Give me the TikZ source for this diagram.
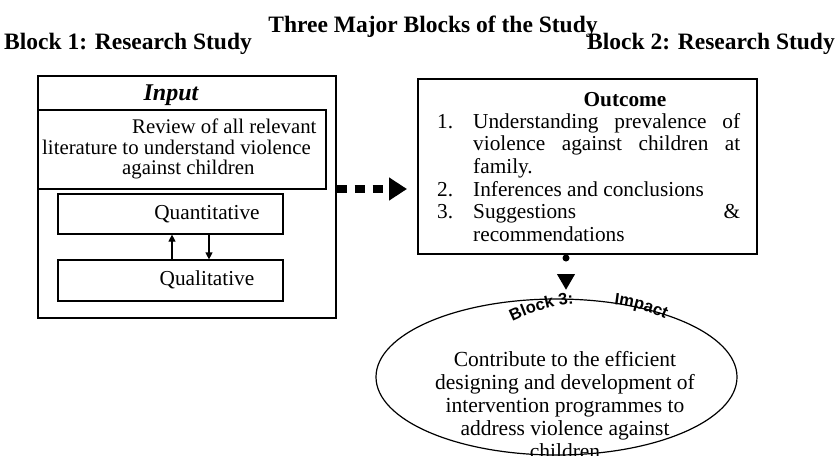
\documentclass[tikz,border=0pt]{standalone}
\usepackage{fontspec}
\setmainfont{Liberation Serif}
\newfontfamily\impactsans{Liberation Sans}
\usepackage{tikz}
\usetikzlibrary{arrows.meta,shapes.geometric,decorations.text}
\newcommand{\bodysize}{\fontsize{21.3}{22.7}\selectfont}
\newcommand{\headsize}{\fontsize{23.5}{26}\selectfont\bfseries}
\newcommand{\arcfont}{\impactsans\bfseries\fontsize{16.5}{16.5}\selectfont}
\tikzstyle{frame} = [rectangle, draw, line width=1.2pt, inner sep=0pt]
\tikzstyle{body} = [font=\bodysize, inner sep=0pt, align=center]
\tikzstyle{heading} = [font=\headsize, inner sep=0pt]
\tikzstyle{smallarrow} = [line width=1.2pt, -{Triangle[length=7pt,width=7pt]}]
\tikzstyle{squarearrow} = [line width=8pt, dash pattern=on 10pt off 8pt, -{Triangle[length=18pt,width=22pt]}]
\tikzstyle{dotarrow} = [line width=7pt, line cap=round, dash pattern=on 0pt off 20pt, -{Triangle[length=16pt,width=17pt]}]
\tikzstyle{arctext} = [decorate, decoration={text along path, text align=center}]

\begin{document}
\begin{tikzpicture}[x=1pt, y=1pt]
    \useasboundingbox (0,0) rectangle (837,-455);

    % Headings
    \node[heading, anchor=base] (title) at (433,-32) {Three Major Blocks of the Study};
    \node[heading, anchor=base west] (blockone) at (4,-49) {Block 1: Research Study};
    \node[heading, anchor=base east] (blocktwo) at (835,-49) {Block 2: Research Study};

    % Block 1
    \node[frame, minimum width=298, minimum height=242] (inputbox) at (187,-197) {};
    \node[inner sep=0pt, font=\fontsize{24}{26}\selectfont\bfseries\itshape, anchor=base] (inputlabel) at (171,-100) {Input};
    \node[frame, minimum width=288, minimum height=79] (reviewbox) at (182,-149.5) {};
    \node[body, font=\fontsize{20.8}{20.5}\selectfont, align=left, anchor=west] (reviewtext) at (42,-149) {\hspace*{90pt}Review of all relevant\\literature to understand violence\\\hspace*{80pt}against children};
    \node[frame, minimum width=225, minimum height=40] (quantbox) at (170.5,-214) {};
    \node[body] (quanttext) at (207,-214) {Quantitative};
    \node[frame, minimum width=225, minimum height=41] (qualbox) at (170.5,-280.5) {};
    \node[body] (qualtext) at (207,-280) {Qualitative};
    \draw[smallarrow] ([xshift=1.5pt]qualbox.north) -- ([xshift=1.5pt]quantbox.south);
    \draw[smallarrow] ([xshift=38.5pt]quantbox.south) -- ([xshift=38.5pt]qualbox.north);

    % Block 2
    \node[frame, minimum width=339, minimum height=175] (outcome) at (587.5,-166.5) {};
    \node[body, font=\bodysize\bfseries, anchor=base] (outcometitle) at (625,-106) {Outcome};
    \node[body, anchor=north west, align=left] (outcomelist) at (437,-112) {%
      \begin{tabular}{@{}p{36pt}@{}l@{}}
        1. & \makebox[267pt][s]{Understanding prevalence of}\\
           & \makebox[267pt][s]{violence against children at}\\
           & family.\\
        2. & Inferences and conclusions\\
        3. & \makebox[267pt][s]{Suggestions \hfill \&}\\
           & recommendations
      \end{tabular}};
    \coordinate (dashend) at (407,-189);
    \draw[squarearrow] (inputbox.east |- dashend) -- (dashend);

    % Block 3
    \node[ellipse, draw, line width=1.2pt, minimum width=361, minimum height=156, inner sep=0pt] (impact) at (556.5,-377) {};
    \node[body, font=\fontsize{21.5}{23}\selectfont] (impacttext) at (565,-405) {Contribute to the efficient\\designing and development of\\intervention programmes to\\address violence against\\children};
    \coordinate (dotstart) at (566,-258);
    \coordinate (dotend) at (566,-290);
    \draw[dotarrow] (dotstart) -- (dotend);
    \coordinate (arccentre) at (592,-483);
    \path[arctext, decoration={text={|\arcfont|Block 3:}}]
      ([shift={(118:180)}]arccentre) arc[start angle=118, end angle=94, radius=180];
    \path[arctext, decoration={text={|\arcfont|Impact}}]
      ([shift={(86:180)}]arccentre) arc[start angle=86, end angle=63, radius=180];
\end{tikzpicture}
\end{document}
